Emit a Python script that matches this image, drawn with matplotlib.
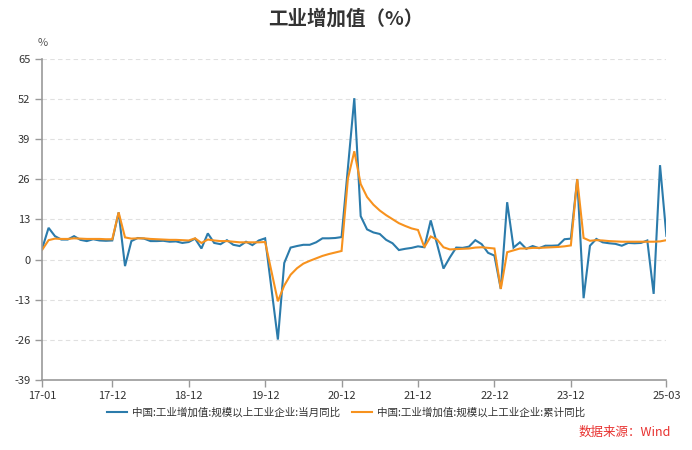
import matplotlib
matplotlib.use("Agg")
import matplotlib.pyplot as plt
import numpy as np
import pandas as pd

plt.rcParams['font.family'] = ['Noto Sans CJK SC', 'DejaVu Sans']
plt.rcParams['axes.unicode_minus'] = False

months = pd.period_range('2017-01', '2025-03', freq='M').strftime('%y-%m').tolist()

# 当月同比 (None = 无数据, 线段直接相连)
monthly = [
    3.6, 10.3, 7.6, 6.5, 6.5, 7.6, 6.4, 6.0, 6.6, 6.2, 6.1, 6.2,        # 2017
    15.3, -2.1, 6.0, 7.0, 6.8, 6.0, 6.0, 6.1, 5.8, 5.9, 5.4, 5.7,      # 2018
    6.8, 3.6, 8.5, 5.4, 5.0, 6.3, 4.8, 4.4, 5.8, 4.7, 6.2, 6.9,        # 2019
    None, -25.9, -1.1, 3.9, 4.4, 4.8, 4.8, 5.6, 6.9, 6.9, 7.0, 7.3,    # 2020
    None, 52.3, 14.1, 9.8, 8.8, 8.3, 6.4, 5.3, 3.1, 3.5, 3.8, 4.3,     # 2021
    4.0, 12.7, 5.0, -2.9, 0.7, 3.9, 3.8, 4.2, 6.3, 5.0, 2.2, 1.3,      # 2022
    -9.5, 18.6, 3.9, 5.6, 3.5, 4.4, 3.7, 4.5, 4.5, 4.6, 6.6, 6.8,      # 2023
    26.1, -12.5, 4.5, 6.7, 5.6, 5.3, 5.1, 4.5, 5.4, 5.3, 5.4, 6.2,     # 2024
    -11.1, 30.6, 7.7,                                                  # 2025
]

# 累计同比
cumulative = [
    3.2, 6.3, 6.8, 6.7, 6.7, 6.9, 6.8, 6.7, 6.7, 6.7, 6.6, 6.6,
    15.3, 7.2, 6.8, 6.9, 6.9, 6.7, 6.6, 6.5, 6.4, 6.4, 6.3, 6.2,
    6.9, 5.4, 6.5, 6.2, 6.0, 6.0, 5.8, 5.6, 5.6, 5.6, 5.6, 5.7,
    None, -13.5, -8.4, -4.9, -2.8, -1.3, -0.4, 0.4, 1.2, 1.8, 2.3, 2.8,
    26.3, 35.1, 24.5, 20.3, 17.8, 15.9, 14.4, 13.1, 11.8, 10.9, 10.1, 9.6,
    4.0, 7.5, 6.5, 4.0, 3.3, 3.4, 3.5, 3.6, 3.9, 4.0, 3.8, 3.6,
    -9.5, 2.4, 3.0, 3.6, 3.6, 3.8, 3.8, 3.9, 4.0, 4.1, 4.3, 4.6,
    26.1, 7.0, 6.1, 6.3, 6.2, 6.0, 5.9, 5.8, 5.8, 5.8, 5.8, 5.8,
    5.8, 5.9, 6.3,
]

series_names = ['中国:工业增加值:规模以上工业企业:当月同比',
                '中国:工业增加值:规模以上工业企业:累计同比']
tick_labels = ['17-01', '17-12', '18-12', '19-12', '20-12', '21-12', '22-12', '23-12', '25-03']
y_ticks = np.arange(-39, 66, 13)

df = pd.DataFrame({'monthly': monthly, 'cumulative': cumulative}, index=months, dtype=float)
x = np.arange(len(months))
df['x'] = x

fig = plt.figure(figsize=(6.92, 4.5), dpi=100)
ax = fig.add_axes([0.061, 0.1556, 0.902, 0.7133])

colors = ['#2b7bab', '#f7921e']
for col, c, name in zip(['monthly', 'cumulative'], colors, series_names):
    s = df[['x', col]].dropna()
    ax.plot(s['x'], s[col], color=c, lw=1.5, label=name, solid_joinstyle='miter')

ax.set_xlim(0, len(months) - 1)
ax.set_ylim(-39, 65)
ax.set_yticks(y_ticks)
ax.set_yticklabels([str(v) for v in y_ticks])
ax.set_xticks([months.index(t) for t in tick_labels])
ax.set_xticklabels(tick_labels)

for v in y_ticks[1:]:
    ax.axhline(v, color='#e0e0e0', lw=0.8, ls=(0, (4, 3)), zorder=0)

for s in ['top', 'right']:
    ax.spines[s].set_visible(False)
for s in ['left', 'bottom']:
    ax.spines[s].set_color('#999999')
    ax.spines[s].set_linewidth(1.2)
ax.tick_params(axis='both', colors='#999999', length=5, width=1, labelsize=8, labelcolor='#333333')
ax.tick_params(axis='x', pad=3)

fig.text(0.061, 0.905, '%', ha='center', va='center', fontsize=8, color='#555555')
fig.text(0.5, 0.958, '工业增加值（%）', ha='center', va='center', fontsize=14,
         fontweight='bold', color='#333333')

leg = fig.legend(loc='center', bbox_to_anchor=(0.5, 0.083), ncol=2, frameon=False,
                 fontsize=7.6, handlelength=1.9, handletextpad=0.4, columnspacing=1.2)
for t in leg.get_texts():
    t.set_color('#333333')

fig.text(0.969, 0.04, '数据来源：Wind', ha='right', va='center', fontsize=9, color='#e8312f')

fig.savefig('out.png', dpi=100)
